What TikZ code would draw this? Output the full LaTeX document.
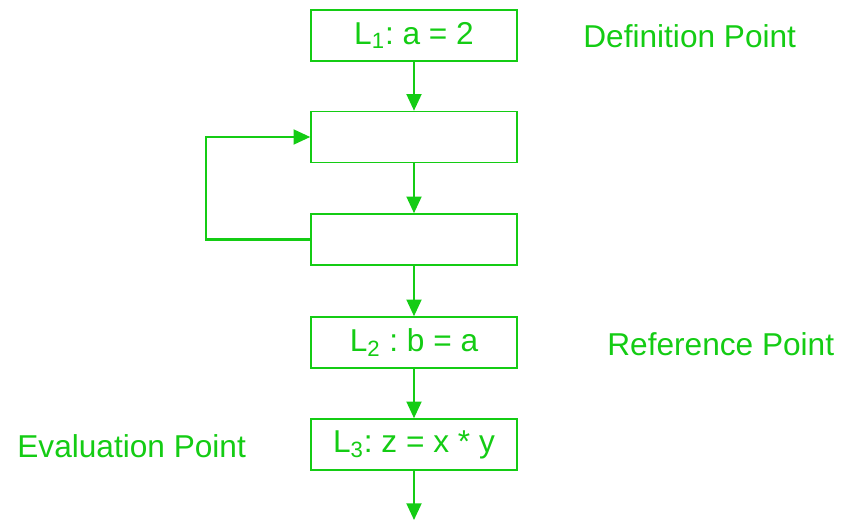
\documentclass[tikz,border=0pt]{standalone}
\usepackage{fontspec}
\setmainfont{Liberation Sans}
\usepackage{tikz}
\usetikzlibrary{arrows.meta,positioning}
\definecolor{flowgreen}{RGB}{20,204,20}
\tikzset{
  flow-box/.style={draw=flowgreen, fill=white, line width=0.9pt, minimum width=4.12cm,
    minimum height=1.02cm, inner sep=0pt, text=flowgreen,
    font=\fontsize{18}{21}\selectfont},
  flow-label/.style={text=flowgreen, inner sep=0pt, font=\fontsize{18}{21}\selectfont},
  flow-arrow/.style={draw=flowgreen, line width=1.2pt, -{Triangle[length=9.5pt,width=8.5pt]}}
}
\frenchspacing

\begin{document}
\begin{tikzpicture}[x=0.02cm, y=-0.02cm]
  \useasboundingbox (0,0) rectangle (851,520);

  % Blocks of the flow graph
  \node[flow-box] (l1) at (414,35.5) {L\textsubscript{1}: a = 2};
  \node[flow-box] (b1) at (414,137) {};
  \node[flow-box] (b2) at (414,239.5) {};
  \node[flow-box] (l2) at (414,342.5) {L\textsubscript{2} : b = a};
  \node[flow-box] (l3) at (414,444.5) {L\textsubscript{3}: z = x * y};
  \coordinate (exit) at (414,520);

  % Edges
  \draw[flow-arrow] (l1) -- (b1);
  \draw[flow-arrow] (b1) -- (b2);
  \draw[flow-arrow] (b2) -- (l2);
  \draw[flow-arrow] (l2) -- (l3);
  \draw[flow-arrow] (l3) -- (exit);

  % Back edge of the loop
  \draw[flow-arrow] (b2.west) -- ++(-104,0) |- (b1.west);

  % Point names
  \node[flow-label, anchor=west] (def) at (583,36) {Definition Point};
  \node[flow-label, anchor=west] (ref) at (607,344) {Reference Point};
  \node[flow-label, anchor=west] (eval) at (17,446) {Evaluation Point};
\end{tikzpicture}
\end{document}
